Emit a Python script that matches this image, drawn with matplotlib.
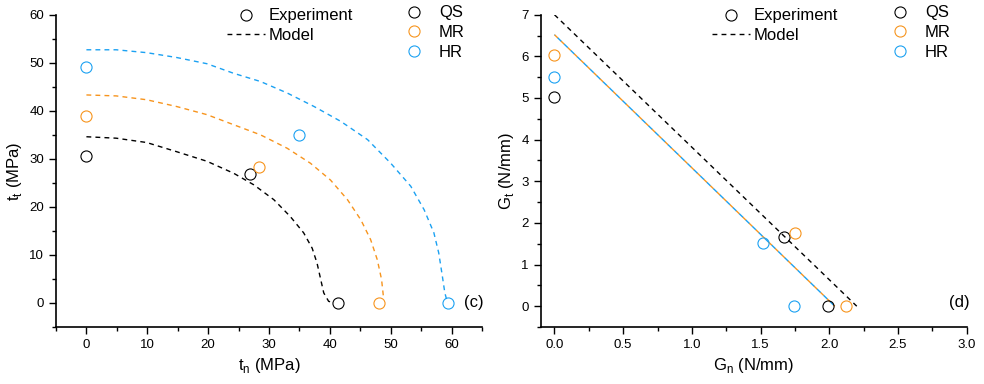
import matplotlib
matplotlib.use("Agg")
import matplotlib.pyplot as plt
from matplotlib.lines import Line2D
from matplotlib.ticker import MultipleLocator, FormatStrFormatter

plt.rcParams['font.family'] = ['Liberation Sans', 'DejaVu Sans']

BLACK = '#000000'
ORANGE = '#F7941D'
BLUE = '#1BA1F2'

series = ['QS', 'MR', 'HR']
colors = [BLACK, ORANGE, BLUE]

# (c) traction data
tn_exp = {'QS': [0, 26.8, 41.3], 'MR': [0, 28.3, 48.0], 'HR': [0, 35.0, 59.4]}
tt_exp = {'QS': [30.5, 26.9, 0], 'MR': [39.0, 28.3, 0], 'HR': [49.2, 35.0, 0]}

tn_mod = {
    'QS': [0, 4.9, 9.9, 14.8, 19.8, 24.2, 27.5, 30.8, 33.5, 35.7, 37.1, 37.9, 38.5, 39.0, 39.8, 40.7],
    'MR': [0, 4.9, 9.9, 14.8, 19.8, 24.2, 28.6, 33.0, 36.8, 40.1, 42.9, 45.1, 46.7, 47.8, 48.5, 48.8],
    'HR': [0, 4.9, 9.9, 14.8, 19.8, 24.2, 28.6, 33.0, 37.4, 41.8, 46.2, 50.0, 53.3, 55.5, 57.1, 57.9, 58.5, 58.9, 59.2],
}
tt_mod = {
    'QS': [34.6, 34.3, 33.4, 31.5, 29.5, 27.0, 24.6, 21.5, 18.0, 14.6, 11.4, 8.3, 4.9, 2.1, 0.35, 0.0],
    'MR': [43.3, 43.1, 42.3, 40.9, 39.2, 37.1, 35.0, 32.2, 29.1, 25.6, 21.5, 17.3, 13.2, 9.0, 4.9, 1.4],
    'HR': [52.7, 52.7, 52.1, 51.1, 49.8, 47.8, 46.1, 43.7, 40.9, 37.8, 34.0, 29.1, 24.3, 19.4, 14.6, 10.4, 5.5, 2.1, 0.7],
}

# (d) energy data
gn_exp = {'QS': [0, 1.67, 1.99], 'MR': [0, 1.75, 2.12], 'HR': [0, 1.52, 1.74]}
gt_exp = {'QS': [5.03, 1.67, 0], 'MR': [6.03, 1.75, 0], 'HR': [5.5, 1.52, 0]}

gn_mod = {'QS': [0, 2.2], 'MR': [0, 2.04], 'HR': [0, 2.04]}
gt_mod = {'QS': [7.0, 0.0], 'MR': [6.52, 0.0], 'HR': [6.52, 0.0]}

fig = plt.figure(figsize=(9.84, 3.84), dpi=100)
ax1 = fig.add_axes([0.0569, 0.1484, 0.4329, 0.8133])
ax2 = fig.add_axes([0.5495, 0.1484, 0.4329, 0.8133])

mk = dict(marker='o', linestyle='none', markersize=8, markerfacecolor='none', markeredgewidth=0.8)
DASH = (0, (3.5, 3))
FS = 12

for s, c in zip(series, colors):
    ax1.plot(tn_mod[s], tt_mod[s], color=c, lw=1.0, linestyle=DASH)
    ax1.plot(tn_exp[s], tt_exp[s], markeredgecolor=c, **mk)

# (d)
ax2.plot(gn_mod['QS'], gt_mod['QS'], color=BLACK, lw=1.0, linestyle=DASH)
ax2.plot(gn_mod['MR'], gt_mod['MR'], color=ORANGE, lw=1.0, linestyle=DASH)
ax2.plot(gn_mod['HR'], gt_mod['HR'], color=BLUE, lw=1.0, linestyle=(3.2, (3.5, 3)))
for s, c in zip(series, colors):
    ax2.plot(gn_exp[s], gt_exp[s], markeredgecolor=c, **mk)

ax1.set_xlim(-5, 65)
ax1.set_ylim(-5, 60)
ax1.xaxis.set_major_locator(MultipleLocator(10))
ax1.xaxis.set_minor_locator(MultipleLocator(5))
ax1.yaxis.set_major_locator(MultipleLocator(10))
ax1.yaxis.set_minor_locator(MultipleLocator(5))
ax1.set_xlabel('t$_\\mathregular{n}$ (MPa)', fontsize=FS, labelpad=4)
ax1.set_ylabel('t$_\\mathregular{t}$ (MPa)', fontsize=FS, labelpad=4)

ax2.set_xlim(-0.1, 3.0)
ax2.set_ylim(-0.5, 7)
ax2.xaxis.set_major_locator(MultipleLocator(0.5))
ax2.xaxis.set_minor_locator(MultipleLocator(0.25))
ax2.yaxis.set_major_locator(MultipleLocator(1))
ax2.yaxis.set_minor_locator(MultipleLocator(0.5))
ax2.xaxis.set_major_formatter(FormatStrFormatter('%.1f'))
ax2.set_xlabel('G$_\\mathregular{n}$ (N/mm)', fontsize=FS, labelpad=4)
ax2.set_ylabel('G$_\\mathregular{t}$ (N/mm)', fontsize=FS, labelpad=4)

for ax in (ax1, ax2):
    ax.spines['top'].set_visible(False)
    ax.spines['right'].set_visible(False)
    ax.spines['left'].set_linewidth(1.2)
    ax.spines['bottom'].set_linewidth(1.2)
    ax.tick_params(which='major', direction='out', length=5, width=1, labelsize=9.5)
    ax.tick_params(which='minor', direction='out', length=3, width=1)

ax1.text(1.003, 0.08, '(c)', transform=ax1.transAxes, fontsize=FS, ha='right', va='center')
ax2.text(1.008, 0.08, '(d)', transform=ax2.transAxes, fontsize=FS, ha='right', va='center')

def make_legends(ax, x1, x2):
    h1 = [Line2D([], [], color=BLACK, **mk),
          Line2D([], [], color=BLACK, lw=1.0, linestyle=DASH)]
    leg1 = ax.legend(h1, ['Experiment', 'Model'], loc='upper left', bbox_to_anchor=(x1, 0.978),
                     bbox_transform=fig.transFigure, frameon=False, fontsize=FS,
                     handlelength=2.28, handletextpad=0.24, labelspacing=0.28,
                     borderpad=0, borderaxespad=0)
    ax.add_artist(leg1)
    h2 = [Line2D([], [], markeredgecolor=c, **mk) for c in colors]
    ax.legend(h2, series, loc='upper left', bbox_to_anchor=(x2, 0.986),
              bbox_transform=fig.transFigure, frameon=False, fontsize=FS,
              handlelength=2.0, handletextpad=0.5, labelspacing=0.29,
              borderpad=0, borderaxespad=0)

make_legends(ax1, 227 / 984, 397.3 / 984)
make_legends(ax2, 711.7 / 984, 883.3 / 984)

fig.savefig('out.png', dpi=100)
